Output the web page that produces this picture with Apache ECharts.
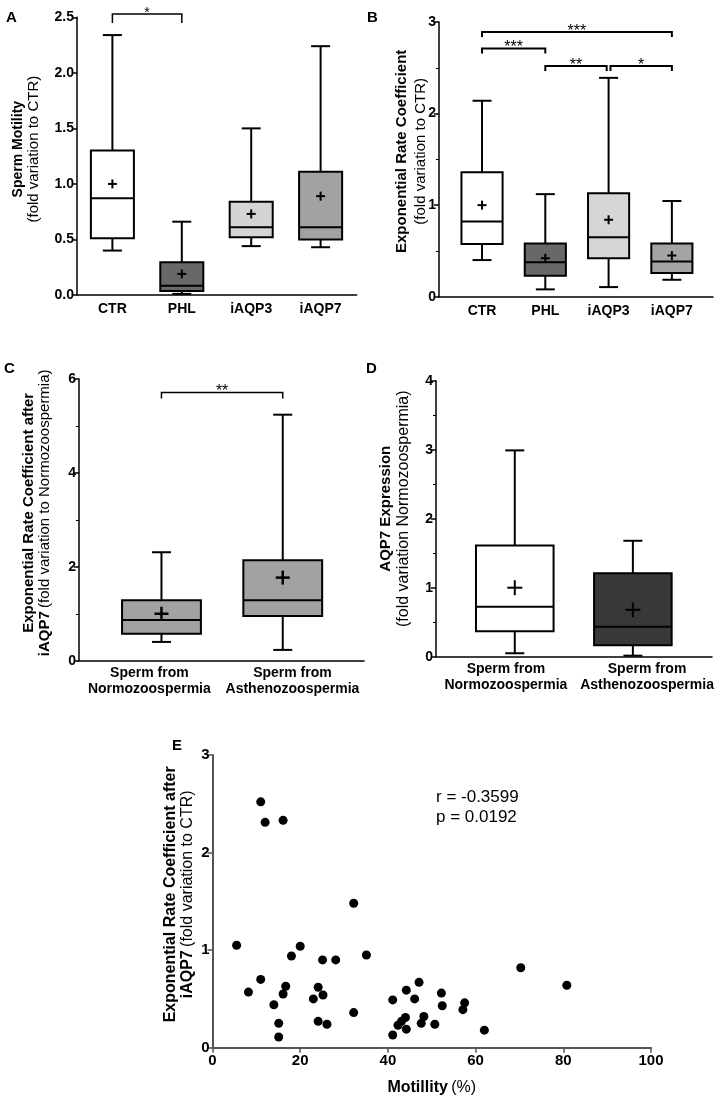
<!DOCTYPE html>
<html><head><meta charset="utf-8">
<script src="https://cdn.jsdelivr.net/npm/echarts@6/dist/echarts.min.js"></script>
<style>html,body{margin:0;padding:0;background:#fff}#c{width:720px;height:1101px}</style>
</head><body><div id="c"></div>
<script>
// ---------- DATA ----------
const catsAB = ['CTR','PHL','iAQP3','iAQP7'];
// each row: [lower whisker, Q1, median, Q3, upper whisker, mean]
const boxA = [[0.40,0.51,0.87,1.30,2.34,1.00],[0.01,0.036,0.084,0.295,0.66,0.19],[0.44,0.52,0.61,0.84,1.50,0.73],[0.43,0.50,0.61,1.11,2.24,0.89]];
const boxB = [[0.40,0.575,0.82,1.36,2.14,1.00],[0.08,0.23,0.375,0.58,1.12,0.42],[0.105,0.42,0.65,1.13,2.39,0.84],[0.185,0.26,0.385,0.58,1.045,0.45]];
const catsCD = ['Sperm from\nNormozoospermia','Sperm from\nAsthenozoospermia'];
const boxC = [[0.40,0.575,0.866,1.29,2.31,1.00],[0.23,0.95,1.29,2.14,5.24,1.77]];
const boxD = [[0.05,0.37,0.725,1.61,2.99,1.00],[0.015,0.165,0.435,1.21,1.68,0.68]];
const fillA = ['#ffffff','#686868','#d4d4d4','#a2a2a2'];
const fillB = ['#ffffff','#686868','#d6d6d6','#a4a4a4'];
const fillC = ['#a2a2a2','#a2a2a2'];
const fillD = ['#ffffff','#383838'];
// significance brackets: [from x, to x, y, label]
const sigA = [[0,1,2.53,'*']];
const sigB = [[0,3,2.89,'***'],[0,1,2.71,'***'],[1,1.97,2.52,'**'],[2.03,3,2.52,'*']];
const sigC = [[0,1,5.71,'**']];
// panel E: [motility %, exponential rate coefficient]
const scatterE = [[11.0,2.52],[12.0,2.31],[16.1,2.33],[32.2,1.48],[5.5,1.05],[20.0,1.04],[18.0,0.94],[35.1,0.95],[25.1,0.90],[28.1,0.90],[11.0,0.70],[8.2,0.57],[16.7,0.63],[16.1,0.55],[14.0,0.44],[24.1,0.62],[23.0,0.50],[25.2,0.54],[15.1,0.25],[15.1,0.11],[24.1,0.27],[26.1,0.24],[32.2,0.36],[41.1,0.49],[41.1,0.13],[42.3,0.23],[43.1,0.27],[44.0,0.31],[44.2,0.19],[44.2,0.59],[47.1,0.67],[46.1,0.50],[52.2,0.56],[52.4,0.43],[57.5,0.46],[57.1,0.39],[48.2,0.32],[47.6,0.25],[50.7,0.24],[62.0,0.18],[70.3,0.82],[80.8,0.64]];
const statsE = ['r = -0.3599','p = 0.0192'];

// ---------- HELPERS ----------
const FONT = '"Liberation Sans", Arial, sans-serif';
function boxSeries(xi, data, fills, frac, capW, crossS, crossW, lw){
  return {type:'custom', xAxisIndex:xi, yAxisIndex:xi, clip:false, silent:true, z:3,
    data: data.map((d,i)=>({value:[i].concat(d), itemStyle:{color:fills[i]}})),
    renderItem(params, api){
      const x = api.value(0);
      const c = k => api.coord([x, api.value(k)]);
      const lo=c(1), q1=c(2), md=c(3), q3=c(4), hi=c(5), mn=c(6);
      const cx = lo[0];
      const bw = api.size([frac,0])[0];
      const fill = api.visual('color');
      const st = {stroke:'#000', lineWidth:lw};
      const cs = {stroke:'#000', lineWidth:crossW};
      return {type:'group', children:[
        {type:'line', shape:{x1:cx,y1:hi[1],x2:cx,y2:q3[1]}, style:st},
        {type:'line', shape:{x1:cx,y1:q1[1],x2:cx,y2:lo[1]}, style:st},
        {type:'line', shape:{x1:cx-capW/2,y1:hi[1],x2:cx+capW/2,y2:hi[1]}, style:st},
        {type:'line', shape:{x1:cx-capW/2,y1:lo[1],x2:cx+capW/2,y2:lo[1]}, style:st},
        {type:'rect', shape:{x:cx-bw/2,y:q3[1],width:bw,height:q1[1]-q3[1]}, style:{fill:fill, stroke:'#000', lineWidth:lw}},
        {type:'line', shape:{x1:cx-bw/2,y1:md[1],x2:cx+bw/2,y2:md[1]}, style:st},
        {type:'line', shape:{x1:cx-crossS/2,y1:mn[1],x2:cx+crossS/2,y2:mn[1]}, style:cs},
        {type:'line', shape:{x1:cx,y1:mn[1]-crossS/2,x2:cx,y2:mn[1]+crossS/2}, style:cs}
      ]};
    }};
}
function sigSeries(xi, data, tickPx, lw, fs){
  return {type:'custom', xAxisIndex:xi, yAxisIndex:xi, clip:false, silent:true, z:4,
    data: data.map(d=>[d[0],d[1],d[2]]),
    renderItem(params, api){
      const a = api.coord([api.value(0), api.value(2)]);
      const b = api.coord([api.value(1), api.value(2)]);
      const txt = data[params.dataIndex][3];
      return {type:'group', children:[
        {type:'polyline', shape:{points:[[a[0],a[1]+tickPx],[a[0],a[1]],[b[0],b[1]],[b[0],b[1]+tickPx]]}, style:{stroke:'#000', lineWidth:lw, fill:null}},
        {type:'text', x:(a[0]+b[0])/2, y:a[1]+fs*0.45, style:{text:txt, font:fs+'px '+FONT, fill:'#000', align:'center', verticalAlign:'bottom'}}
      ]};
    }};
}
function yAx(gi, max, interval, minorSplit, fmt, name, nameGap, rich, lift){
  return {type:'value', gridIndex:gi, min:0, max:max, interval:interval,
    axisLine:{show:true, onZero:false, lineStyle:{color:'#000', width:1.5}},
    axisTick:{show:true, length:5, lineStyle:{color:'#000', width:1.5}},
    minorTick:{show:minorSplit>0, splitNumber:minorSplit||5, length:3, lineStyle:{color:'#000', width:1}},
    splitLine:{show:false},
    axisLabel:{color:'#000', fontWeight:'bold', fontSize:14, fontFamily:FONT, margin:3, formatter:fmt},
    name:name, nameLocation:'middle', nameRotate:90, nameGap:nameGap, nameMoveOverlap:false,
    nameTextStyle:{color:'#000', fontFamily:FONT, rich:rich, padding:[0,0,0,lift*2]}};
}
// labelPos: where the category labels sit (GraphPad spreads them a little wider than the boxes)
function xCat(gi, cats, min, max, labelPos, margin){
  return {type:'value', gridIndex:gi, min:min, max:max,
    axisLine:{show:true, onZero:false, lineStyle:{color:'#000', width:1.5}},
    axisTick:{show:false}, splitLine:{show:false},
    axisLabel:{customValues:labelPos, formatter:v=>cats[Math.max(0,Math.min(cats.length-1,Math.round(v)))],
      color:'#000', fontWeight:'bold', fontSize:14, fontFamily:FONT, margin:margin, lineHeight:16, hideOverlap:false}};
}

const chart = echarts.init(document.getElementById('c'), null, {renderer:'canvas'});
chart.setOption({
  backgroundColor:'#fff',
  animation:false,
  grid:[
    {left:77, top:17.3, width:279.7, height:277.7},
    {left:439, top:22, width:274, height:274.7},
    {left:79, top:379, width:285, height:281.7},
    {left:436, top:380.7, width:276, height:276},
    {left:212.5, top:755, width:438.5, height:292.7}
  ],
  xAxis:[
    xCat(0, catsAB, -0.51, 3.52, [0,1,2,3], 6),
    xCat(1, catsAB, -0.68, 3.65, [0,1,2,3], 6),
    xCat(2, catsCD, -0.68, 1.67, [-0.1,1.08], 4),
    xCat(3, catsCD, -0.667, 1.67, [-0.075,1.12], 4),
    {type:'value', gridIndex:4, min:0, max:100, interval:20,
      axisLine:{show:true, onZero:false, lineStyle:{color:'#555', width:2}},
      axisTick:{show:true, length:5, lineStyle:{color:'#555', width:1.5}},
      splitLine:{show:false},
      axisLabel:{color:'#000', fontWeight:'bold', fontSize:15, fontFamily:FONT, margin:6},
      name:'{b|Motillity} {n|(%)}', nameLocation:'middle', nameGap:32, nameMoveOverlap:false,
      nameTextStyle:{fontFamily:FONT, rich:{b:{fontWeight:'bold', fontSize:16, color:'#000', fontFamily:FONT}, n:{fontSize:16, color:'#000', fontFamily:FONT}}}}
  ],
  yAxis:[
    yAx(0, 2.5, 0.5, 0, v=>v.toFixed(1), '{b|Sperm Motility}\n{n|(fold variation to CTR)}', 36,
      {b:{fontWeight:'bold', fontSize:14, lineHeight:15, fontFamily:FONT, color:'#000'}, n:{fontSize:15, lineHeight:15, fontFamily:FONT, color:'#000'}}, 7),
    yAx(1, 3, 1, 2, v=>String(v), '{b|Exponential Rate Coefficient}\n{n|(fold variation to CTR)}', 9,
      {b:{fontWeight:'bold', fontSize:15, lineHeight:19, fontFamily:FONT, color:'#000'}, n:{fontSize:15, lineHeight:19, fontFamily:FONT, color:'#000'}}, 8),
    yAx(2, 6, 2, 2, v=>String(v), '{b|Exponential Rate Coefficient after}\n{b|iAQP7} {n|(fold variation to Normozoospermia)}', 26,
      {b:{fontWeight:'bold', fontSize:15, lineHeight:16, fontFamily:FONT, color:'#000'}, n:{fontSize:15, lineHeight:16, fontFamily:FONT, color:'#000'}}, 7),
    yAx(3, 4, 1, 2, v=>String(v), '{b|AQP7 Expression}\n{n|(fold variation Normozoospermia)}', 23,
      {b:{fontWeight:'bold', fontSize:15, lineHeight:18, fontFamily:FONT, color:'#000'}, n:{fontSize:16, lineHeight:18, fontFamily:FONT, color:'#000'}}, 10),
    {type:'value', gridIndex:4, min:0, max:3, interval:1,
      axisLine:{show:true, onZero:false, lineStyle:{color:'#555', width:2}},
      axisTick:{show:true, length:5, lineStyle:{color:'#555', width:1.5}},
      splitLine:{show:false},
      axisLabel:{color:'#000', fontWeight:'bold', fontSize:15, fontFamily:FONT, margin:3},
      name:'{b|Exponential Rate Coefficient after}\n{b|iAQP7} {n|(fold variation to CTR)}', nameLocation:'middle', nameRotate:90, nameGap:16.5, nameMoveOverlap:false,
      nameTextStyle:{fontFamily:FONT, padding:[0,0,0,14], rich:{b:{fontWeight:'bold', fontSize:16, lineHeight:17, color:'#000', fontFamily:FONT}, n:{fontSize:16, lineHeight:17, color:'#000', fontFamily:FONT}}}}
  ],
  graphic:[
    {type:'text', left:6, top:10, style:{text:'A', font:'bold 15px '+FONT, fill:'#000'}},
    {type:'text', left:367, top:10, style:{text:'B', font:'bold 15px '+FONT, fill:'#000'}},
    {type:'text', left:4, top:361, style:{text:'C', font:'bold 15px '+FONT, fill:'#000'}},
    {type:'text', left:366, top:361, style:{text:'D', font:'bold 15px '+FONT, fill:'#000'}},
    {type:'text', left:172, top:738, style:{text:'E', font:'bold 15px '+FONT, fill:'#000'}},
    {type:'text', left:436, top:787, style:{text:statsE.join('\n'), font:'17px '+FONT, fill:'#000', lineHeight:20}}
  ],
  series:[
    boxSeries(0, boxA, fillA, 0.62, 19, 9, 2, 2),
    boxSeries(1, boxB, fillB, 0.65, 19, 9, 2, 2),
    boxSeries(2, boxC, fillC, 0.65, 19, 14, 2.5, 2),
    boxSeries(3, boxD, fillD, 0.657, 19, 15, 2, 2),
    sigSeries(0, sigA, 9, 1.5, 14),
    sigSeries(1, sigB, 5, 2, 16),
    sigSeries(2, sigC, 6, 1.5, 16),
    {type:'scatter', xAxisIndex:4, yAxisIndex:4, data:scatterE, symbol:'circle', symbolSize:9, itemStyle:{color:'#000', opacity:1}, silent:true}
  ]
});
</script>
</body></html>
